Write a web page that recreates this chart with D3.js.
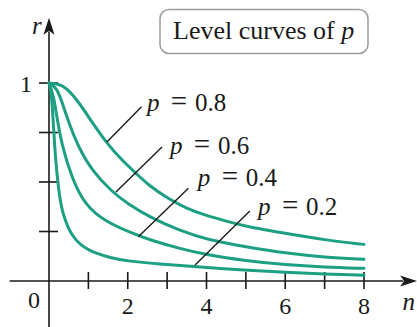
<!DOCTYPE html>
<html>
<head>
<meta charset="utf-8">
<script src="https://cdn.jsdelivr.net/npm/d3@7"></script>
<style>
  html, body { margin: 0; padding: 0; background: #fff; }
  svg { display: block; }
  text { font-family: "Liberation Serif", "Times New Roman", serif; fill: #1a1a1a; }
</style>
</head>
<body>
<svg id="chart" width="417" height="327"></svg>
<script>
// Level curves of p in the (n, r) plane
const levels = [0.8, 0.6, 0.4, 0.2];

const nP08 = [0, 0.25, 0.45, 0.75, 1.08, 1.45, 1.85, 2.15, 2.55, 3.0, 3.5, 4.0, 4.5, 5.0, 6, 7, 8];
const rP08 = [1, 0.995, 0.975, 0.905, 0.806, 0.70, 0.61, 0.555, 0.48, 0.42, 0.365, 0.33, 0.302, 0.275, 0.241, 0.207, 0.185];

const nP06 = [0, 0.2, 0.32, 0.49, 0.74, 1.08, 1.6, 2.0, 2.6, 3.28, 4.04, 5.0, 6, 7, 8];
const rP06 = [1, 0.975, 0.91, 0.806, 0.679, 0.56, 0.45, 0.39, 0.318, 0.258, 0.207, 0.173, 0.14, 0.12, 0.11];

const nP04 = [0, 0.11, 0.19, 0.32, 0.58, 0.91, 1.42, 2.2, 2.6, 3.3, 4.0, 5, 6, 7, 8];
const rP04 = [1, 0.94, 0.84, 0.689, 0.52, 0.385, 0.30, 0.234, 0.205, 0.165, 0.132, 0.102, 0.082, 0.07, 0.064];

const nP02 = [0, 0.04, 0.08, 0.12, 0.17, 0.24, 0.32, 0.58, 1.0, 1.59, 2.0, 2.8, 3.7, 5, 6, 7, 8];
const rP02 = [1, 0.98, 0.9, 0.76, 0.605, 0.47, 0.352, 0.217, 0.15, 0.116, 0.10, 0.086, 0.072, 0.055, 0.043, 0.035, 0.029];

const nTicks = [1, 2, 3, 4, 5, 6, 7, 8];
const nTickLabels = ["2", "4", "6", "8"];
const rTicks = [0.25, 0.5, 0.75, 1];
const rTickLabels = ["1"];

const curveN = [nP08, nP06, nP04, nP02];
const curveR = [rP08, rP06, rP04, rP02];

// leader lines (from curve to label) and label anchors, in (n, r) units
const leaderFrom = [[1.47, 0.702], [1.70, 0.449], [2.27, 0.224], [3.71, 0.081]];
const leaderTo   = [[2.35, 0.880], [2.87, 0.677], [3.54, 0.468], [5.10, 0.354]];
const labelAt    = [[2.49, 0.859], [3.07, 0.641], [3.78, 0.480], [5.31, 0.333]];

const svg = d3.select("#chart");
const x = d3.scaleLinear().domain([0, 8]).range([49, 364]);
const y = d3.scaleLinear().domain([0, 1]).range([281, 83]);

const ink = "#1a1a1a";
const teal = "#1c9f82";

// axes
const axes = svg.append("g").attr("stroke", ink).attr("stroke-width", 1.6);
axes.append("line").attr("x1", x(-1.0)).attr("x2", x(9.0)).attr("y1", y(0)).attr("y2", y(0));
axes.append("line").attr("x1", x(0)).attr("x2", x(0)).attr("y1", y(-0.25)).attr("y2", y(1.26));

// arrowheads
const xTip = [x(9.35), y(0)];
svg.append("path")
  .attr("d", `M${xTip[0]},${xTip[1]} L${xTip[0]-17},${xTip[1]-5.5} L${xTip[0]-13},${xTip[1]} L${xTip[0]-17},${xTip[1]+5.5} Z`)
  .attr("fill", ink);
const yTip = [x(0), y(1.33)];
svg.append("path")
  .attr("d", `M${yTip[0]},${yTip[1]} L${yTip[0]-5.5},${yTip[1]+17} L${yTip[0]},${yTip[1]+13} L${yTip[0]+5.5},${yTip[1]+17} Z`)
  .attr("fill", ink);

// ticks
axes.selectAll(".nt").data(nTicks).join("line")
  .attr("x1", d => x(d)).attr("x2", d => x(d))
  .attr("y1", y(0) - 9).attr("y2", y(0) + 8);
axes.selectAll(".rt").data(rTicks).join("line")
  .attr("x1", x(0) - 10).attr("x2", x(0) + 9)
  .attr("y1", d => y(d)).attr("y2", d => y(d));

// tick labels
svg.selectAll(".nl").data(nTickLabels).join("text")
  .attr("x", d => x(+d)).attr("y", y(0) + 33)
  .attr("text-anchor", "middle").attr("font-size", 24).text(d => d);
svg.selectAll(".rl").data(rTickLabels).join("text")
  .attr("x", x(0) - 23).attr("y", d => y(+d) + 9)
  .attr("text-anchor", "middle").attr("font-size", 24).text(d => d);
svg.append("text").attr("x", x(0) - 15).attr("y", y(0) + 27)
  .attr("text-anchor", "middle").attr("font-size", 24).text("0");

// axis names
svg.append("text").attr("x", x(0) - 17).attr("y", y(1.25))
  .attr("font-size", 25).attr("font-style", "italic").text("r");
svg.append("text").attr("x", x(8.98)).attr("y", y(0) + 29)
  .attr("font-size", 25).attr("font-style", "italic").text("n");

// level curves
const line = d3.line().x(d => x(d[0])).y(d => y(d[1])).curve(d3.curveBasis);
svg.append("g").selectAll("path")
  .data(levels.map((p, i) => curveN[i].map((n, j) => [n, curveR[i][j]])))
  .join("path")
  .attr("d", line)
  .attr("fill", "none").attr("stroke", teal).attr("stroke-width", 3)
  .attr("stroke-linecap", "round");

// leader lines
svg.append("g").selectAll("line").data(levels).join("line")
  .attr("x1", (d, i) => x(leaderFrom[i][0])).attr("y1", (d, i) => y(leaderFrom[i][1]))
  .attr("x2", (d, i) => x(leaderTo[i][0])).attr("y2", (d, i) => y(leaderTo[i][1]))
  .attr("stroke", ink).attr("stroke-width", 1.4);

// curve labels: p = value
const labels = svg.append("g").selectAll("g").data(levels).join("g")
  .attr("transform", (d, i) => `translate(${x(labelAt[i][0])},${y(labelAt[i][1])})`);
labels.append("text").attr("x", 0).attr("y", 0)
  .attr("font-size", 25).attr("font-style", "italic").text("p");
labels.append("text").attr("x", 32).attr("y", 0).attr("text-anchor", "middle")
  .attr("font-size", 29).text("=");
labels.append("text").attr("x", 48).attr("y", 0)
  .attr("font-size", 25).text(d => d.toFixed(1));

// title box
const box = svg.append("g");
box.append("rect").attr("x", 160).attr("y", 9.5).attr("width", 208).attr("height", 44)
  .attr("rx", 9).attr("fill", "#fff").attr("stroke", "#9c9c9c").attr("stroke-width", 1.5);
const title = box.append("text").attr("x", 173).attr("y", 39).attr("font-size", 26);
title.append("tspan").text("Level curves of ");
title.append("tspan").attr("font-style", "italic").text("p");
</script>
</body>
</html>
